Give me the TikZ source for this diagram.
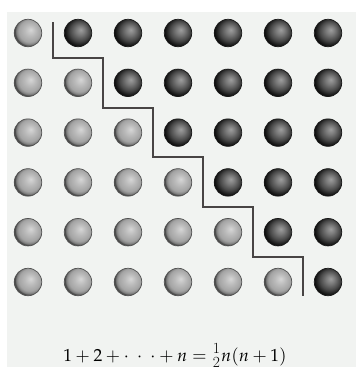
\documentclass[tikz,border=0pt]{standalone}
\usepackage{amsmath}
\usepackage{mathpazo}
\definecolor{bgpaper}{RGB}{241,243,241}
\definecolor{stairline}{RGB}{72,68,68}
\pgfdeclareradialshading{lightsh}{\pgfqpoint{5bp}{6bp}}{color(0bp)=(black!16); color(10bp)=(black!27); color(20bp)=(black!36); color(24bp)=(black!50); color(26bp)=(black!70); color(50bp)=(black!80)}
\pgfdeclareradialshading{darksh}{\pgfqpoint{5bp}{6bp}}{color(0bp)=(black!38); color(8bp)=(black!52); color(18bp)=(black!72); color(24bp)=(black!88); color(27bp)=(black!95); color(50bp)=(black)}
\newcommand{\fracdigit}[1]{\hbox{\fontsize{15.5}{15.5}\selectfont #1}}
\tikzset{
  ballbase/.style={circle, minimum size=27.5pt, inner sep=0pt, line width=0.7pt},
  lightball/.style={ballbase, shade, shading=lightsh, draw=black!68},
  darkball/.style={ballbase, shade, shading=darksh, draw=black!90},
  stair/.style={draw=stairline, line width=1.8pt},
  formulastyle/.style={anchor=base, inner sep=0pt, font=\fontsize{17.5}{21}\selectfont}
}
\begin{document}
\begin{tikzpicture}[x=1pt,y=-1pt]
\useasboundingbox (0,0) rectangle (356,367);
\fill[bgpaper] (7,12) rectangle (356,367);
\foreach \r in {1,...,6}{
  \foreach \c in {1,...,7}{
    \pgfmathsetmacro{\cx}{28+50*(\c-1)}
    \pgfmathsetmacro{\cy}{33+49.8*(\r-1)}
    \ifnum\c>\r
      \node[darkball] (b\r\c) at (\cx,\cy) {};
    \else
      \node[lightball] (b\r\c) at (\cx,\cy) {};
    \fi
  }
}
\coordinate (s0) at (53,22);
\coordinate (s1) at (103,58);
\coordinate (s2) at (153,108);
\coordinate (s3) at (203,157);
\coordinate (s4) at (253,207);
\coordinate (s5) at (303,257);
\coordinate (s6) at (303,296);
\draw[stair] (s0) |- (s1) |- (s2) |- (s3) |- (s4) |- (s5) -- (s6);
\node[formulastyle] (formula) at (175,361)
  {$1+2+{\cdot}\mkern8mu{\cdot}\mkern8mu{\cdot}+n=\genfrac{}{}{0pt}{}{\fracdigit{1}}{\fracdigit{2}}n(n+1)$};
\end{tikzpicture}
\end{document}
